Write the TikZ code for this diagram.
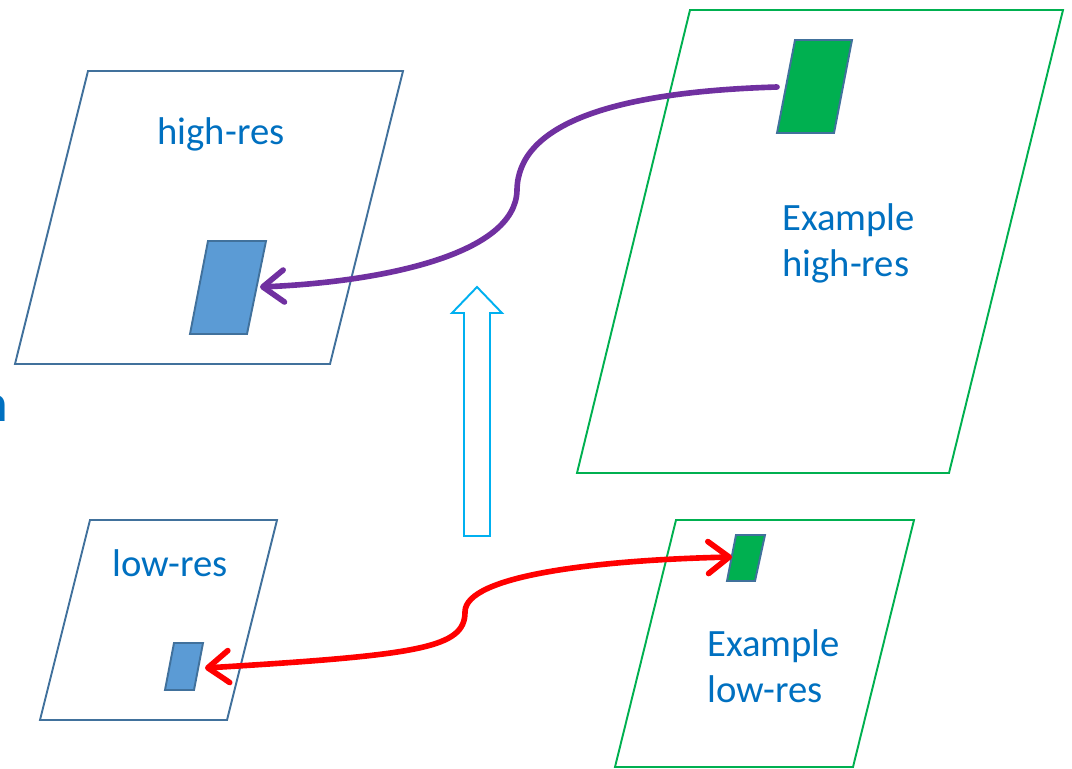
\documentclass[tikz,border=0pt]{standalone}
\usepackage{fontspec}
\setmainfont{Carlito}
\usetikzlibrary{arrows.meta}
\definecolor{frameblue}{HTML}{41719C}
\definecolor{patchblue}{HTML}{5B9BD5}
\definecolor{exgreen}{HTML}{00B050}
\definecolor{textblue}{HTML}{0070C0}
\definecolor{linkpurple}{HTML}{7030A0}
\definecolor{liftcyan}{HTML}{00B0F0}
\definecolor{linkred}{HTML}{FF0000}
\tikzset{
  framebox/.style={draw=frameblue, line width=1.1pt, line join=miter},
  exframe/.style={draw=exgreen, line width=1.1pt},
  bluepatch/.style={draw=frameblue, fill=patchblue, line width=1.1pt},
  greenpatch/.style={draw=frameblue, fill=exgreen, line width=1.1pt},
  label/.style={text=textblue, font=\fontsize{22}{26.5}\selectfont, inner sep=0pt, align=left},
  barb/.tip={Straight Barb[length=0.42cm, width=0.64cm, line cap=round, line join=round]},
  link/.style={line width=3.2pt, line cap=round, -barb},
  twolink/.style={line width=3.2pt, line cap=round, barb-barb},
  lift/.style={draw=liftcyan, line width=1.1pt, fill=white}
}
\begin{document}
\begin{tikzpicture}[x=0.02cm, y=-0.02cm]
\useasboundingbox (0,0) rectangle (1072,768);

% high-res frame and its patch
\draw[framebox] (88,71) -- (403,71) -- (330,364) -- (15,364) -- cycle;
\draw[bluepatch] (208,241) -- (266,241) -- (247,334) -- (190,334) -- cycle;
\node[label, anchor=center] (hr) at (221,134) {high-res};

% low-res frame and its patch
\draw[framebox] (90,520) -- (277,520) -- (227,720) -- (40,720) -- cycle;
\draw[bluepatch] (174,643) -- (203,643) -- (194,690) -- (165,690) -- cycle;
\node[label, anchor=center] (lr) at (170,563) {low-res};

% example high-res frame and its patch
\draw[exframe] (690,10) -- (1063,10) -- (949,473) -- (577,473) -- cycle;
\draw[greenpatch] (795,40) -- (852,40) -- (834,133) -- (777,133) -- cycle;
\node[label, anchor=north west] (exhr) at (782,203) {Example\\high-res};

% example low-res frame and its patch
\draw[exframe] (676,520) -- (914,520) -- (853,767) -- (615,767) -- cycle;
\draw[greenpatch] (736,535) -- (765,535) -- (755,581) -- (727,581) -- cycle;
\node[label, anchor=north west] (exlr) at (707,629) {Example\\low-res};

% hollow upward arrow between the levels
\draw[lift] (464,536) -- (464,313) -- (452,313) -- (477,287) -- (502,313) -- (490,313) -- (490,536) -- cycle;

% cropped heading letter at the left edge
\node[text=textblue, font=\fontsize{30}{34}\selectfont\bfseries, anchor=base east, inner sep=0pt] (cut) at (8,421) {n};

% connector end points
\coordinate (gsrc) at (777,87);
\coordinate (bdst) at (260,287);
\coordinate (rl) at (205,668);
\coordinate (rr) at (732,557);

% purple link: example patch to high-res patch
\draw[link, draw=linkpurple] (gsrc) .. controls (610,92) and (518,125) .. (517,190)
      .. controls (516,255) and (380,282) .. (bdst);

% red link: low-res patch <-> example low-res patch
\draw[twolink, draw=linkred] (rl) .. controls (420,655) and (465,648) .. (465,612)
      .. controls (465,575) and (600,560) .. (rr);
\end{tikzpicture}
\end{document}
